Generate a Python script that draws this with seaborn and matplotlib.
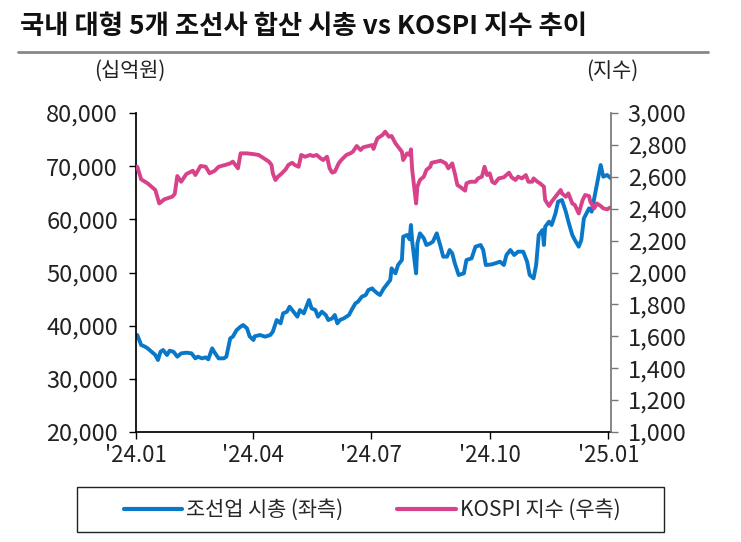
import pandas as pd
import matplotlib.pyplot as plt
from matplotlib.lines import Line2D
from matplotlib.patches import Rectangle
from matplotlib.ticker import FuncFormatter
import seaborn as sns

# KOSPI index (right axis)
kospi_dates = [
    "2024-01-02", "2024-01-05", "2024-01-10", "2024-01-16", "2024-01-19", "2024-01-23",
    "2024-01-29", "2024-01-31", "2024-02-02", "2024-02-05", "2024-02-09", "2024-02-14",
    "2024-02-16", "2024-02-20", "2024-02-24", "2024-02-27", "2024-03-02", "2024-03-05",
    "2024-03-10", "2024-03-14", "2024-03-16", "2024-03-20", "2024-03-22", "2024-03-27",
    "2024-04-02", "2024-04-05", "2024-04-09", "2024-04-13", "2024-04-15", "2024-04-16",
    "2024-04-18", "2024-04-20", "2024-04-23", "2024-04-26", "2024-04-28", "2024-05-01",
    "2024-05-03", "2024-05-06", "2024-05-08", "2024-05-11", "2024-05-15", "2024-05-17",
    "2024-05-20", "2024-05-23", "2024-05-25", "2024-05-28", "2024-05-30", "2024-06-01",
    "2024-06-03", "2024-06-06", "2024-06-08", "2024-06-12", "2024-06-15", "2024-06-17",
    "2024-06-20", "2024-06-23", "2024-06-25", "2024-06-29", "2024-07-02", "2024-07-03",
    "2024-07-06", "2024-07-10", "2024-07-12", "2024-07-15", "2024-07-17", "2024-07-20",
    "2024-07-23", "2024-07-25", "2024-07-26", "2024-07-29", "2024-07-31", "2024-08-01",
    "2024-08-02", "2024-08-05", "2024-08-06", "2024-08-08", "2024-08-11", "2024-08-13",
    "2024-08-16", "2024-08-17", "2024-08-21", "2024-08-24", "2024-08-28", "2024-08-30",
    "2024-09-02", "2024-09-04", "2024-09-06", "2024-09-08", "2024-09-12", "2024-09-13",
    "2024-09-16", "2024-09-20", "2024-09-22", "2024-09-25", "2024-09-27", "2024-09-29",
    "2024-10-01", "2024-10-03", "2024-10-05", "2024-10-08", "2024-10-12", "2024-10-16",
    "2024-10-18", "2024-10-21", "2024-10-23", "2024-10-26", "2024-10-29", "2024-10-31",
    "2024-11-03", "2024-11-04", "2024-11-07", "2024-11-09", "2024-11-12", "2024-11-13",
    "2024-11-16", "2024-11-18", "2024-11-21", "2024-11-25", "2024-11-26", "2024-11-29",
    "2024-12-01", "2024-12-04", "2024-12-06", "2024-12-09", "2024-12-12", "2024-12-14",
    "2024-12-17", "2024-12-18", "2024-12-21", "2024-12-23", "2024-12-26", "2024-12-28",
    "2024-12-31", "2025-01-03",
]
kospi_values = [
    2663, 2584, 2559, 2517, 2433, 2459,
    2475, 2492, 2605, 2569, 2617, 2638,
    2611, 2668, 2663, 2622, 2638, 2663,
    2674, 2684, 2695, 2653, 2747, 2747,
    2741, 2737, 2716, 2695, 2674, 2622,
    2580, 2601, 2622, 2647, 2674, 2688,
    2674, 2663, 2737, 2726, 2737, 2730,
    2737, 2716, 2705, 2726, 2653, 2626,
    2632, 2684, 2705, 2737, 2747, 2757,
    2793, 2768, 2785, 2793, 2799, 2775,
    2841, 2862, 2883, 2851, 2856, 2810,
    2778, 2757, 2705, 2747, 2737, 2772,
    2642, 2433, 2538, 2580, 2601, 2643,
    2663, 2688, 2695, 2701, 2684, 2653,
    2684, 2622, 2548, 2538, 2513, 2559,
    2569, 2569, 2590, 2601, 2663, 2611,
    2622, 2569, 2559, 2590, 2597, 2626,
    2597, 2580, 2601, 2590, 2611, 2569,
    2569, 2590, 2569, 2559, 2538, 2454,
    2417, 2444, 2475, 2517, 2496, 2475,
    2496, 2433, 2423, 2370, 2454, 2486,
    2479, 2444, 2402, 2433, 2417, 2402,
    2396, 2410,
]

# combined market cap of 5 shipbuilders, KRW bn (left axis)
cap_dates = [
    "2024-01-02", "2024-01-04", "2024-01-05", "2024-01-08", "2024-01-10", "2024-01-13",
    "2024-01-16", "2024-01-18", "2024-01-20", "2024-01-22", "2024-01-25", "2024-01-27",
    "2024-01-30", "2024-02-02", "2024-02-05", "2024-02-09", "2024-02-13", "2024-02-16",
    "2024-02-18", "2024-02-21", "2024-02-24", "2024-02-26", "2024-02-29", "2024-03-02",
    "2024-03-05", "2024-03-09", "2024-03-11", "2024-03-14", "2024-03-16", "2024-03-19",
    "2024-03-22", "2024-03-24", "2024-03-27", "2024-03-29", "2024-04-01", "2024-04-02",
    "2024-04-06", "2024-04-10", "2024-04-14", "2024-04-16", "2024-04-19", "2024-04-22",
    "2024-04-24", "2024-04-27", "2024-04-29", "2024-05-02", "2024-05-05", "2024-05-07",
    "2024-05-10", "2024-05-14", "2024-05-16", "2024-05-19", "2024-05-21", "2024-05-24",
    "2024-05-27", "2024-05-29", "2024-06-01", "2024-06-03", "2024-06-05", "2024-06-07",
    "2024-06-10", "2024-06-14", "2024-06-16", "2024-06-19", "2024-06-21", "2024-06-24",
    "2024-06-27", "2024-06-29", "2024-07-02", "2024-07-03", "2024-07-06", "2024-07-08",
    "2024-07-11", "2024-07-13", "2024-07-16", "2024-07-17", "2024-07-20", "2024-07-22",
    "2024-07-25", "2024-07-26", "2024-07-29", "2024-07-31", "2024-08-01", "2024-08-02",
    "2024-08-05", "2024-08-06", "2024-08-08", "2024-08-11", "2024-08-13", "2024-08-16",
    "2024-08-18", "2024-08-21", "2024-08-24", "2024-08-26", "2024-08-29", "2024-08-31",
    "2024-09-02", "2024-09-04", "2024-09-07", "2024-09-11", "2024-09-13", "2024-09-17",
    "2024-09-20", "2024-09-24", "2024-09-26", "2024-09-28", "2024-10-02", "2024-10-05",
    "2024-10-09", "2024-10-12", "2024-10-14", "2024-10-17", "2024-10-20", "2024-10-23",
    "2024-10-27", "2024-10-30", "2024-11-01", "2024-11-04", "2024-11-06", "2024-11-08",
    "2024-11-11", "2024-11-12", "2024-11-13", "2024-11-16", "2024-11-18", "2024-11-21",
    "2024-11-23", "2024-11-26", "2024-11-29", "2024-12-01", "2024-12-04", "2024-12-06",
    "2024-12-09", "2024-12-11", "2024-12-13", "2024-12-17", "2024-12-19", "2024-12-22",
    "2024-12-23", "2024-12-26", "2024-12-28", "2024-12-31", "2025-01-03",
]
cap_values = [
    38242, 36987, 36360, 36047, 35733, 35106,
    34480, 33539, 35106, 35420, 34480, 35294,
    35106, 34166, 34793, 34919, 34793, 33853,
    34166, 33853, 34040, 33664, 35733, 34919,
    33853, 33853, 34166, 37614, 37928, 39182,
    39809, 40122, 39495, 38000, 37301, 38000,
    38242, 37928, 38242, 38869, 41063, 40436,
    42317, 42631, 43572, 42631, 41690, 42944,
    42317, 44825, 43258, 42944, 41690, 42631,
    42004, 41063, 41377, 42004, 40436, 41063,
    41377, 42004, 42944, 44198, 44512, 45453,
    45766, 46706, 47020, 46706, 46080, 45766,
    47020, 47647, 48587, 50781, 49841, 51408,
    52349, 56738, 57052, 56236, 58933, 55798,
    49841, 55484, 57365, 56424, 55170, 55484,
    55798, 57365, 54857, 52976, 52976, 54230,
    53603, 51722, 49527, 49841, 52349, 52663,
    54857, 55170, 54230, 51408, 51500, 51700,
    52035, 51408, 53290, 54230, 53290, 53917,
    53917, 52035, 49527, 48900, 51408, 57052,
    57992, 55170, 58619, 59560, 58933, 61127,
    63322, 63635, 61441, 59560, 57052, 56111,
    54857, 56111, 60186, 62068, 61441, 65203,
    66457, 70219, 68024, 68338, 67711,
]

tick_dates = ["2024-01-01", "2024-04-01", "2024-07-01", "2024-10-01", "2025-01-01"]
tick_labels = ["'24.01", "'24.04", "'24.07", "'24.10", "'25.01"]
left_ticks = [20000, 30000, 40000, 50000, 60000, 70000, 80000]
right_ticks = [1000, 1200, 1400, 1600, 1800, 2000, 2200, 2400, 2600, 2800, 3000]
legend_labels = ["조선업 시총 (좌측)", "KOSPI 지수 (우측)"]

BLUE = "#0a78c8"
PINK = "#d8428a"
TEXT = "#222222"

sns.set_theme(style="white")
plt.rcParams["font.family"] = ["Noto Sans CJK KR", "DejaVu Sans"]

kospi = pd.DataFrame({"date": pd.to_datetime(kospi_dates), "value": kospi_values})
cap = pd.DataFrame({"date": pd.to_datetime(cap_dates), "value": cap_values})

fig = plt.figure(figsize=(7.41, 5.42), dpi=100)
ax = fig.add_axes([136 / 741, 1 - 432 / 542, 475 / 741, 319 / 542])
ax2 = ax.twinx()

sns.lineplot(data=cap, x="date", y="value", ax=ax, color=BLUE, linewidth=2.8)
sns.lineplot(data=kospi, x="date", y="value", ax=ax2, color=PINK, linewidth=2.8)

ax.set_xlim(pd.Timestamp("2024-01-01"), pd.Timestamp("2025-01-03"))
ax.set_ylim(20000, 80000)
ax2.set_ylim(1000, 3000)
ax.set_xticks(pd.to_datetime(tick_dates))
ax.set_xticklabels(tick_labels)
ax.set_yticks(left_ticks)
ax2.set_yticks(right_ticks)
ax.yaxis.set_major_formatter(FuncFormatter(lambda v, p: f"{int(v):,}"))
ax2.yaxis.set_major_formatter(FuncFormatter(lambda v, p: f"{int(v):,}"))
for a in (ax, ax2):
    a.set_xlabel("")
    a.set_ylabel("")
    a.spines["top"].set_visible(False)

ax.spines["left"].set_color("black")
ax.spines["bottom"].set_color("black")
ax2.spines["right"].set_color("#777777")
ax2.spines["left"].set_visible(False)
ax2.spines["bottom"].set_visible(False)
ax.spines["right"].set_visible(False)
ax.tick_params(axis="y", direction="out", length=5, width=1, color="black",
               labelsize=17, pad=8, labelcolor=TEXT, left=True)
ax.tick_params(axis="x", direction="out", length=5, width=1, color="black",
               labelsize=16, pad=4, labelcolor=TEXT, bottom=True)
ax2.tick_params(axis="y", direction="out", length=5, width=1, color="#777777",
                labelsize=17, pad=7, labelcolor=TEXT, right=True)

# title and rule
fig.text(20 / 741, 1 - 27 / 542, "국내 대형 5개 조선사 합산 시총 vs KOSPI 지수 추이",
         fontsize=19, fontweight="bold", va="center", ha="left", color="#111111")
fig.add_artist(Line2D([18 / 741, 708 / 741], [1 - 52 / 542, 1 - 52 / 542],
                      color="#888888", linewidth=2))
fig.text(130 / 741, 1 - 71 / 542, "(십억원)", fontsize=15, ha="center", va="center", color=TEXT)
fig.text(612 / 741, 1 - 71 / 542, "(지수)", fontsize=15, ha="center", va="center", color=TEXT)

# legend in a plain box
fig.add_artist(Rectangle((77 / 741, 1 - 532 / 542), 587 / 741, 45 / 542,
                         transform=fig.transFigure, fill=False, edgecolor=TEXT, linewidth=1))
handles = [Line2D([], [], color=BLUE, linewidth=3), Line2D([], [], color=PINK, linewidth=3)]
fig.legend(handles, legend_labels, loc="center", bbox_to_anchor=(372 / 741, 1 - 510 / 542),
           ncol=2, frameon=False, fontsize=15, handlelength=2.8, handletextpad=0.2,
           columnspacing=2.6)

fig.savefig("out.png", dpi=100)
